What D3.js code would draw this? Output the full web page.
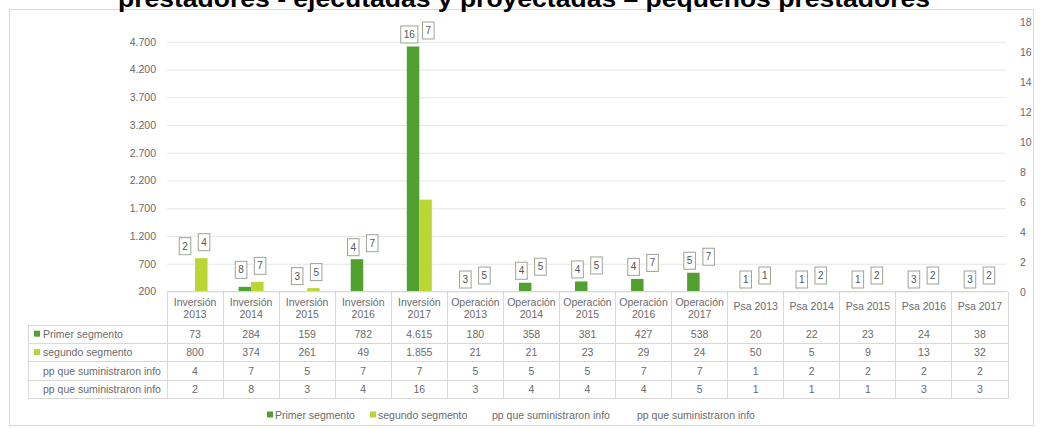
<!DOCTYPE html>
<html>
<head>
<meta charset="utf-8">
<script src="https://cdn.jsdelivr.net/npm/d3@7"></script>
<style>
  html, body { margin: 0; padding: 0; background: #ffffff; }
  svg { display: block; font-family: "Liberation Sans", Arial, sans-serif; }
</style>
</head>
<body>
<svg id="chart" width="1040" height="429"></svg>
<script>
// ---- data ----
const chartTitle = "prestadores - ejecutadas y proyectadas \u2013 peque\u00f1os prestadores";
const categories = [
  "Inversión 2013", "Inversión 2014", "Inversión 2015", "Inversión 2016", "Inversión 2017",
  "Operación 2013", "Operación 2014", "Operación 2015", "Operación 2016", "Operación 2017",
  "Psa 2013", "Psa 2014", "Psa 2015", "Psa 2016", "Psa 2017"
];
const primerSegmento  = [73, 284, 159, 782, 4615, 180, 358, 381, 427, 538, 20, 22, 23, 24, 38];
const segundoSegmento = [800, 374, 261, 49, 1855, 21, 21, 23, 29, 24, 50, 5, 9, 13, 32];
const ppInfoA = [4, 7, 5, 7, 7, 5, 5, 5, 7, 7, 1, 2, 2, 2, 2];
const ppInfoB = [2, 8, 3, 4, 16, 3, 4, 4, 4, 5, 1, 1, 1, 3, 3];
const seriesNames = ["Primer segmento", "segundo segmento", "pp que suministraron info", "pp que suministraron info"];
const leftTicks  = [200, 700, 1200, 1700, 2200, 2700, 3200, 3700, 4200, 4700];
const rightTicks = [0, 2, 4, 6, 8, 10, 12, 14, 16, 18];

// ---- styles ----
const DARK = "#52a02f";
const LIGHT = "#bbd534";
const TEXT = "#6a6a6a";
const GRID = "#e6e6e6";
const BORDER = "#d9d9d9";
const FS = 10.5;

const svg = d3.select("#chart");
const es = d3.formatLocale({ decimal: ",", thousands: ".", grouping: [3], currency: ["$", ""] });
const fmt = es.format(",d");

// plot geometry
const plotLeft = 167, plotRight = 1008, plotTop = 20, base = 291.5;
const x = d3.scaleBand().domain(categories).range([plotLeft, plotRight]);
const yL = d3.scaleLinear().domain([200, 5092]).range([base, plotTop]);
const yR = d3.scaleLinear().domain([0, 18]).range([292, 22]);

// chart frame
svg.append("rect")
  .attr("x", 9.5).attr("y", 9.5).attr("width", 1024).attr("height", 416)
  .attr("fill", "none").attr("stroke", BORDER);

// title (top part runs off the page)
svg.append("text")
  .attr("x", 118).attr("y", 7)
  .attr("font-weight", "bold").attr("font-size", 24).attr("fill", "#000")
  .attr("textLength", 812).attr("lengthAdjust", "spacingAndGlyphs")
  .text(chartTitle);

// primary axis with gridlines
const gL = svg.append("g").attr("transform", `translate(${plotLeft},0)`)
  .call(d3.axisLeft(yL).tickValues(leftTicks).tickFormat(fmt)
    .tickSize(-(plotRight - plotLeft - 2)).tickPadding(11));
gL.select(".domain").remove();
gL.selectAll(".tick line").attr("stroke", GRID);
gL.selectAll(".tick text").attr("fill", TEXT).attr("font-size", FS)
  .attr("font-family", "Liberation Sans, Arial, sans-serif");

// secondary axis
const gR = svg.append("g").attr("transform", `translate(${plotRight},0)`)
  .call(d3.axisRight(yR).tickValues(rightTicks).tickSize(0).tickPadding(12));
gR.select(".domain").remove();
gR.selectAll(".tick text").attr("fill", TEXT).attr("font-size", FS)
  .attr("font-family", "Liberation Sans, Arial, sans-serif");

// clustered bars
const barW = 12.5;
const bars = svg.append("g");
[[primerSegmento, DARK, -barW], [segundoSegmento, LIGHT, 0]].forEach(([vals, color, off]) => {
  bars.selectAll(null)
    .data(categories.map((c, i) => ({ c, v: vals[i] })))
    .join("rect")
    .attr("x", d => x(d.c) + x.bandwidth() / 2 + off)
    .attr("y", d => yL(Math.max(d.v, 200)))
    .attr("width", barW)
    .attr("height", d => base - yL(Math.max(d.v, 200)))
    .attr("fill", color);
});

// boxed data labels for the two "pp" series
const lbl = svg.append("g");
categories.forEach((c, i) => {
  const cx = x(c) + x.bandwidth() / 2;
  const top = yL(Math.max(primerSegmento[i], segundoSegmento[i], 200));
  [[ppInfoB[i], -10, 0], [ppInfoA[i], 9, -4]].forEach(([v, dx, dy]) => {
    const g = lbl.append("g");
    const t = g.append("text")
      .attr("x", cx + dx).attr("y", top - 12 + dy + 3.5)
      .attr("text-anchor", "middle").attr("font-size", 10).attr("fill", "#555")
      .text(v);
    const w = t.node().getComputedTextLength() + 6;
    g.insert("rect", "text")
      .attr("x", cx + dx - w / 2).attr("y", top - 12 + dy - 8.5)
      .attr("width", w).attr("height", 17)
      .attr("fill", "#fff").attr("stroke", "#9aa596").attr("stroke-width", 1);
  });
});

// ---- data table ----
const rowH = 18.4;
const headTop = base, bodyTop = 325;
const tableLeft = 28;
const rows = [primerSegmento, segundoSegmento, ppInfoA, ppInfoB];
const tableBottom = bodyTop + rows.length * rowH;
const tbl = svg.append("g").attr("stroke", BORDER).attr("shape-rendering", "crispEdges");

tbl.append("line").attr("x1", plotLeft).attr("x2", plotRight).attr("y1", headTop).attr("y2", headTop);
d3.range(rows.length + 1).forEach(k => {
  const y = bodyTop + k * rowH;
  tbl.append("line").attr("x1", tableLeft).attr("x2", plotRight).attr("y1", y).attr("y2", y);
});
tbl.append("line").attr("x1", tableLeft).attr("x2", tableLeft).attr("y1", bodyTop).attr("y2", tableBottom);
categories.forEach(c => {
  tbl.append("line").attr("x1", x(c)).attr("x2", x(c)).attr("y1", headTop).attr("y2", tableBottom);
});
tbl.append("line").attr("x1", plotRight).attr("x2", plotRight).attr("y1", headTop).attr("y2", tableBottom);

const txt = svg.append("g").attr("fill", TEXT).attr("font-size", FS);

// header cells
categories.forEach(c => {
  const cx = x(c) + x.bandwidth() / 2;
  const parts = c.startsWith("Psa") ? [c] : c.split(" ");
  const t = txt.append("text").attr("text-anchor", "middle");
  if (parts.length === 1) {
    t.append("tspan").attr("x", cx).attr("y", 309.5).text(parts[0]);
  } else {
    t.append("tspan").attr("x", cx).attr("y", 305.5).text(parts[0]);
    t.append("tspan").attr("x", cx).attr("y", 318).text(parts[1]);
  }
});

// body rows
const keys = [DARK, LIGHT, null, null];
rows.forEach((vals, r) => {
  const yMid = bodyTop + r * rowH + rowH / 2;
  if (keys[r]) {
    svg.append("rect").attr("x", 34).attr("y", yMid - 3.5).attr("width", 6).attr("height", 6).attr("fill", keys[r]);
  }
  txt.append("text").attr("x", 43).attr("y", yMid + 3.7).text(seriesNames[r]);
  vals.forEach((v, i) => {
    txt.append("text")
      .attr("x", x(categories[i]) + x.bandwidth() / 2).attr("y", yMid + 3.7)
      .attr("text-anchor", "middle").text(fmt(v));
  });
});

// ---- legend ----
const legendY = 415;
const legendItems = [
  { name: seriesNames[0], color: DARK, x: 267 },
  { name: seriesNames[1], color: LIGHT, x: 370 },
  { name: seriesNames[2], color: null, x: 492 },
  { name: seriesNames[3], color: null, x: 637 }
];
legendItems.forEach(d => {
  let tx = d.x;
  if (d.color) {
    svg.append("rect").attr("x", d.x).attr("y", legendY - 3.5).attr("width", 6).attr("height", 6).attr("fill", d.color);
    tx = d.x + 8;
  }
  txt.append("text").attr("x", tx).attr("y", legendY + 3.7).text(d.name);
});
</script>
</body>
</html>
